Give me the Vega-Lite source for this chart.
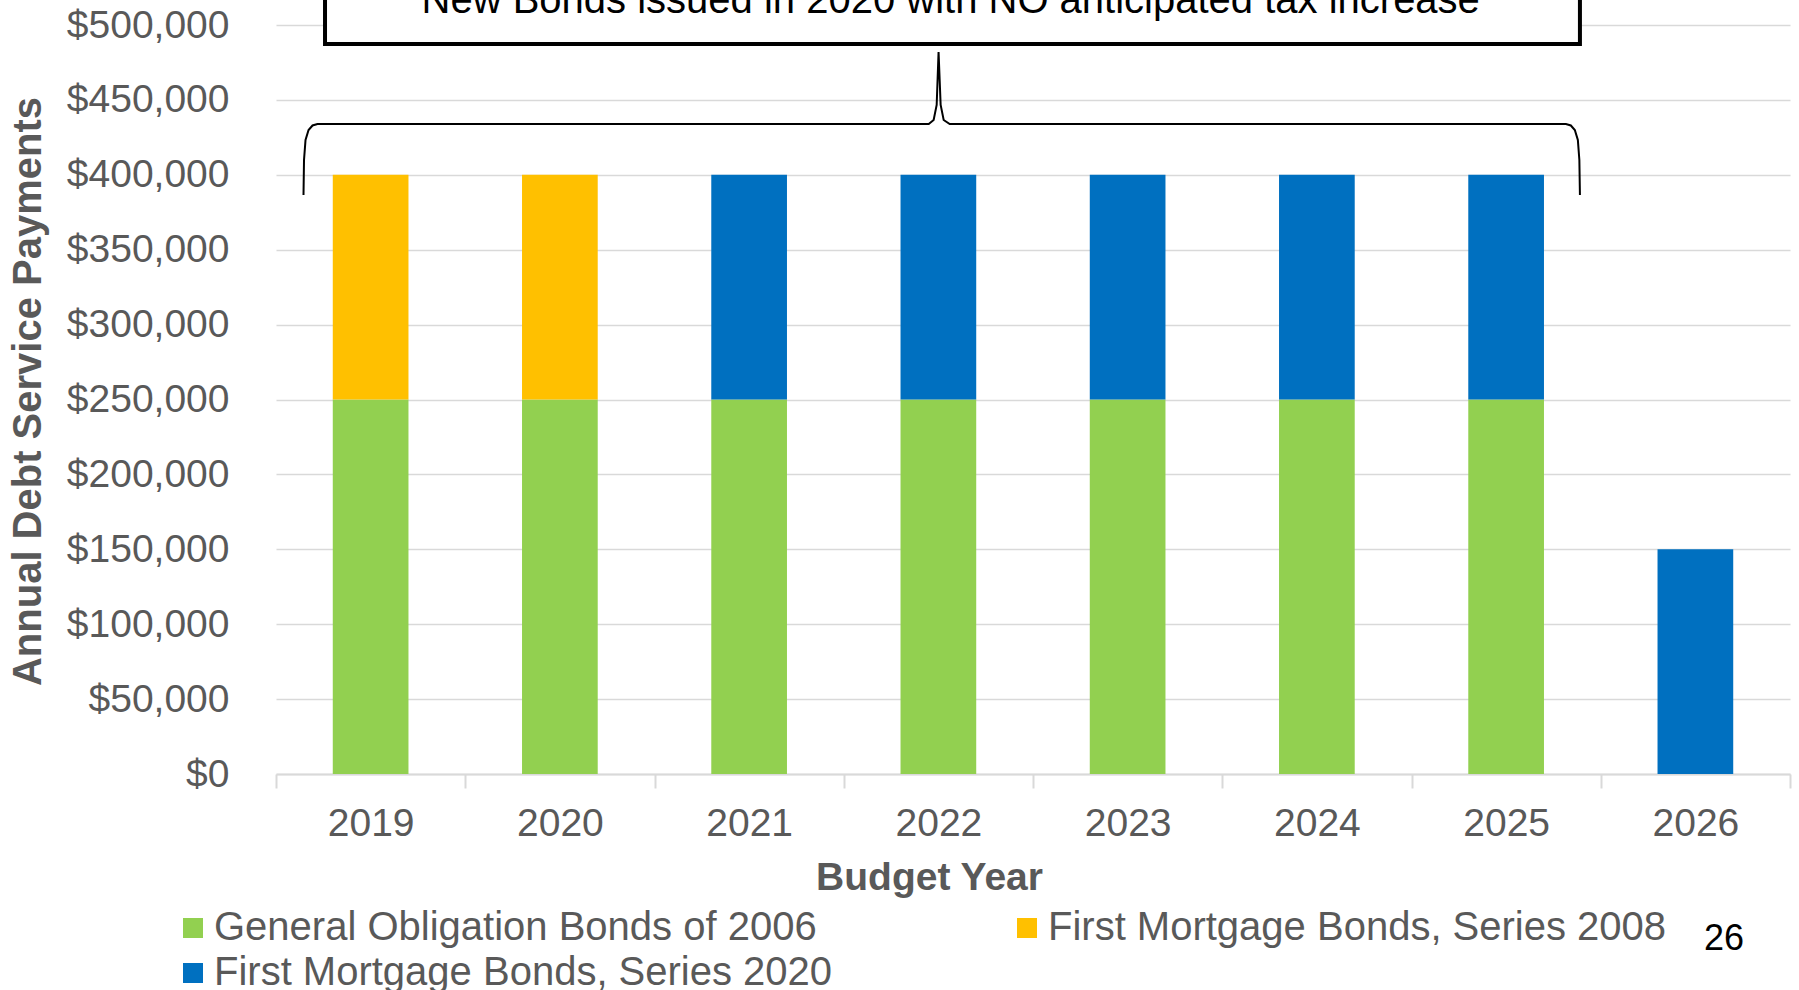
{
  "$schema": "https://vega.github.io/schema/vega-lite/v6.json",
  "autosize": {"type": "none"},
  "width": 1514,
  "height": 749,
  "padding": {"left": 276, "top": 25, "right": 9, "bottom": 216},
  "background": "white",
  "config": {
    "font": "Liberation Sans",
    "view": {"stroke": null},
    "legend": {"padding": 0}
  },
  "datasets": {
    "bars": [
      {"year": "2019", "series": "General Obligation Bonds of 2006", "amount": 250000},
      {"year": "2019", "series": "First Mortgage Bonds, Series 2008", "amount": 150000},
      {"year": "2020", "series": "General Obligation Bonds of 2006", "amount": 250000},
      {"year": "2020", "series": "First Mortgage Bonds, Series 2008", "amount": 150000},
      {"year": "2021", "series": "General Obligation Bonds of 2006", "amount": 250000},
      {"year": "2021", "series": "First Mortgage Bonds, Series 2020", "amount": 150000},
      {"year": "2022", "series": "General Obligation Bonds of 2006", "amount": 250000},
      {"year": "2022", "series": "First Mortgage Bonds, Series 2020", "amount": 150000},
      {"year": "2023", "series": "General Obligation Bonds of 2006", "amount": 250000},
      {"year": "2023", "series": "First Mortgage Bonds, Series 2020", "amount": 150000},
      {"year": "2024", "series": "General Obligation Bonds of 2006", "amount": 250000},
      {"year": "2024", "series": "First Mortgage Bonds, Series 2020", "amount": 150000},
      {"year": "2025", "series": "General Obligation Bonds of 2006", "amount": 250000},
      {"year": "2025", "series": "First Mortgage Bonds, Series 2020", "amount": 150000},
      {"year": "2026", "series": "First Mortgage Bonds, Series 2020", "amount": 150000}
    ],
    "box": [{"u1": 0.259, "u2": 6.89, "v1": 487316, "v2": 545000}],
    "brace": [
      {"seq": 1, "u": 0.1453, "v": 386517},
      {"seq": 2, "u": 0.148, "v": 409882},
      {"seq": 3, "u": 0.156, "v": 423233},
      {"seq": 4, "u": 0.172, "v": 429909},
      {"seq": 5, "u": 0.193, "v": 432913},
      {"seq": 6, "u": 0.219, "v": 433914},
      {"seq": 7, "u": 3.449, "v": 433914},
      {"seq": 8, "u": 3.475, "v": 436584},
      {"seq": 9, "u": 3.491, "v": 446598},
      {"seq": 10, "u": 3.501, "v": 481978},
      {"seq": 11, "u": 3.512, "v": 446598},
      {"seq": 12, "u": 3.528, "v": 436584},
      {"seq": 13, "u": 3.56, "v": 433914},
      {"seq": 14, "u": 6.816, "v": 433914},
      {"seq": 15, "u": 6.842, "v": 432913},
      {"seq": 16, "u": 6.863, "v": 429909},
      {"seq": 17, "u": 6.879, "v": 423233},
      {"seq": 18, "u": 6.887, "v": 409882},
      {"seq": 19, "u": 6.89, "v": 386517}
    ],
    "note": [{"u": 3.565, "v": 508010, "text": "New Bonds issued in 2020 with NO anticipated tax increase"}],
    "page": [{"u": 7.651, "v": -117491, "text": "26"}]
  },
  "layer": [
    {
      "data": {"name": "bars"},
      "mark": {"type": "bar", "width": {"band": 0.4}},
      "encoding": {
        "x": {
          "field": "year", "type": "ordinal",
          "scale": {"paddingInner": 0, "paddingOuter": 0},
          "axis": {
            "title": "Budget Year",
            "titleFont": "Liberation Sans", "titleFontSize": 39, "titleFontWeight": "bold", "titleColor": "#595959",
            "titleX": 653, "titleY": 115, "titleAnchor": "middle", "titleAlign": "center", "titleBaseline": "alphabetic",
            "labelAngle": 0, "labelFontSize": 39, "labelColor": "#595959", "labelBaseline": "alphabetic", "labelPadding": 47.5,
            "tickBand": "extent", "tickSize": 14, "tickColor": "#d9d9d9", "tickWidth": 2,
            "domainColor": "#d9d9d9", "domainWidth": 2, "grid": false
          }
        },
        "y": {
          "field": "amount", "type": "quantitative",
          "scale": {"domain": [0, 500000], "nice": false},
          "axis": {
            "title": "Annual Debt Service Payments",
            "titleFontSize": 40, "titleFontWeight": "bold", "titleColor": "#595959",
            "titleX": -248, "titleY": 366, "titleAngle": -90, "titleAlign": "center", "titleBaseline": "middle",
            "values": [0, 50000, 100000, 150000, 200000, 250000, 300000, 350000, 400000, 450000, 500000],
            "format": "$,.0f", "labelFontSize": 39, "labelColor": "#595959", "labelPadding": 47,
            "ticks": false, "tickSize": 0, "domain": false,
            "grid": true, "gridColor": "#d9d9d9", "gridWidth": 1.3
          }
        },
        "color": {
          "field": "series", "type": "nominal",
          "scale": {
            "domain": ["General Obligation Bonds of 2006", "First Mortgage Bonds, Series 2020", "First Mortgage Bonds, Series 2008"],
            "range": ["#92d050", "#0070c0", "#ffc000"]
          },
          "legend": {
            "title": null, "orient": "none", "legendX": -103, "legendY": 883,
            "columns": 2, "columnPadding": 174, "rowPadding": 5,
            "symbolType": "square", "symbolSize": 400, "symbolStrokeWidth": 0,
            "labelFontSize": 40, "labelColor": "#595959", "labelOffset": 1, "labelLimit": 1000
          }
        },
        "order": {"field": "series", "sort": "descending"}
      }
    },
    {
      "data": {"name": "box"},
      "mark": {"type": "rect", "fill": "white", "stroke": "black", "strokeWidth": 4},
      "encoding": {
        "x": {"field": "u1", "type": "quantitative", "scale": {"domain": [0, 8], "nice": false, "zero": false}, "axis": null},
        "x2": {"field": "u2"},
        "y": {"field": "v1", "type": "quantitative", "scale": {"domain": [0, 500000], "nice": false}, "axis": null},
        "y2": {"field": "v2"}
      }
    },
    {
      "data": {"name": "brace"},
      "mark": {"type": "line", "color": "black", "strokeWidth": 2},
      "encoding": {
        "x": {"field": "u", "type": "quantitative", "scale": {"domain": [0, 8], "nice": false, "zero": false}, "axis": null},
        "y": {"field": "v", "type": "quantitative", "scale": {"domain": [0, 500000], "nice": false}, "axis": null},
        "order": {"field": "seq", "type": "quantitative"}
      }
    },
    {
      "data": {"name": "note"},
      "mark": {"type": "text", "fontSize": 40, "color": "black", "align": "center", "baseline": "alphabetic"},
      "encoding": {
        "x": {"field": "u", "type": "quantitative", "scale": {"domain": [0, 8], "nice": false, "zero": false}, "axis": null},
        "y": {"field": "v", "type": "quantitative", "scale": {"domain": [0, 500000], "nice": false}, "axis": null},
        "text": {"field": "text"}
      }
    },
    {
      "data": {"name": "page"},
      "mark": {"type": "text", "fontSize": 36, "color": "black", "align": "center", "baseline": "alphabetic"},
      "encoding": {
        "x": {"field": "u", "type": "quantitative", "scale": {"domain": [0, 8], "nice": false, "zero": false}, "axis": null},
        "y": {"field": "v", "type": "quantitative", "scale": {"domain": [0, 500000], "nice": false}, "axis": null},
        "text": {"field": "text"}
      }
    }
  ],
  "resolve": {"scale": {"x": "independent", "y": "independent"}, "axis": {"x": "independent", "y": "independent"}}
}
